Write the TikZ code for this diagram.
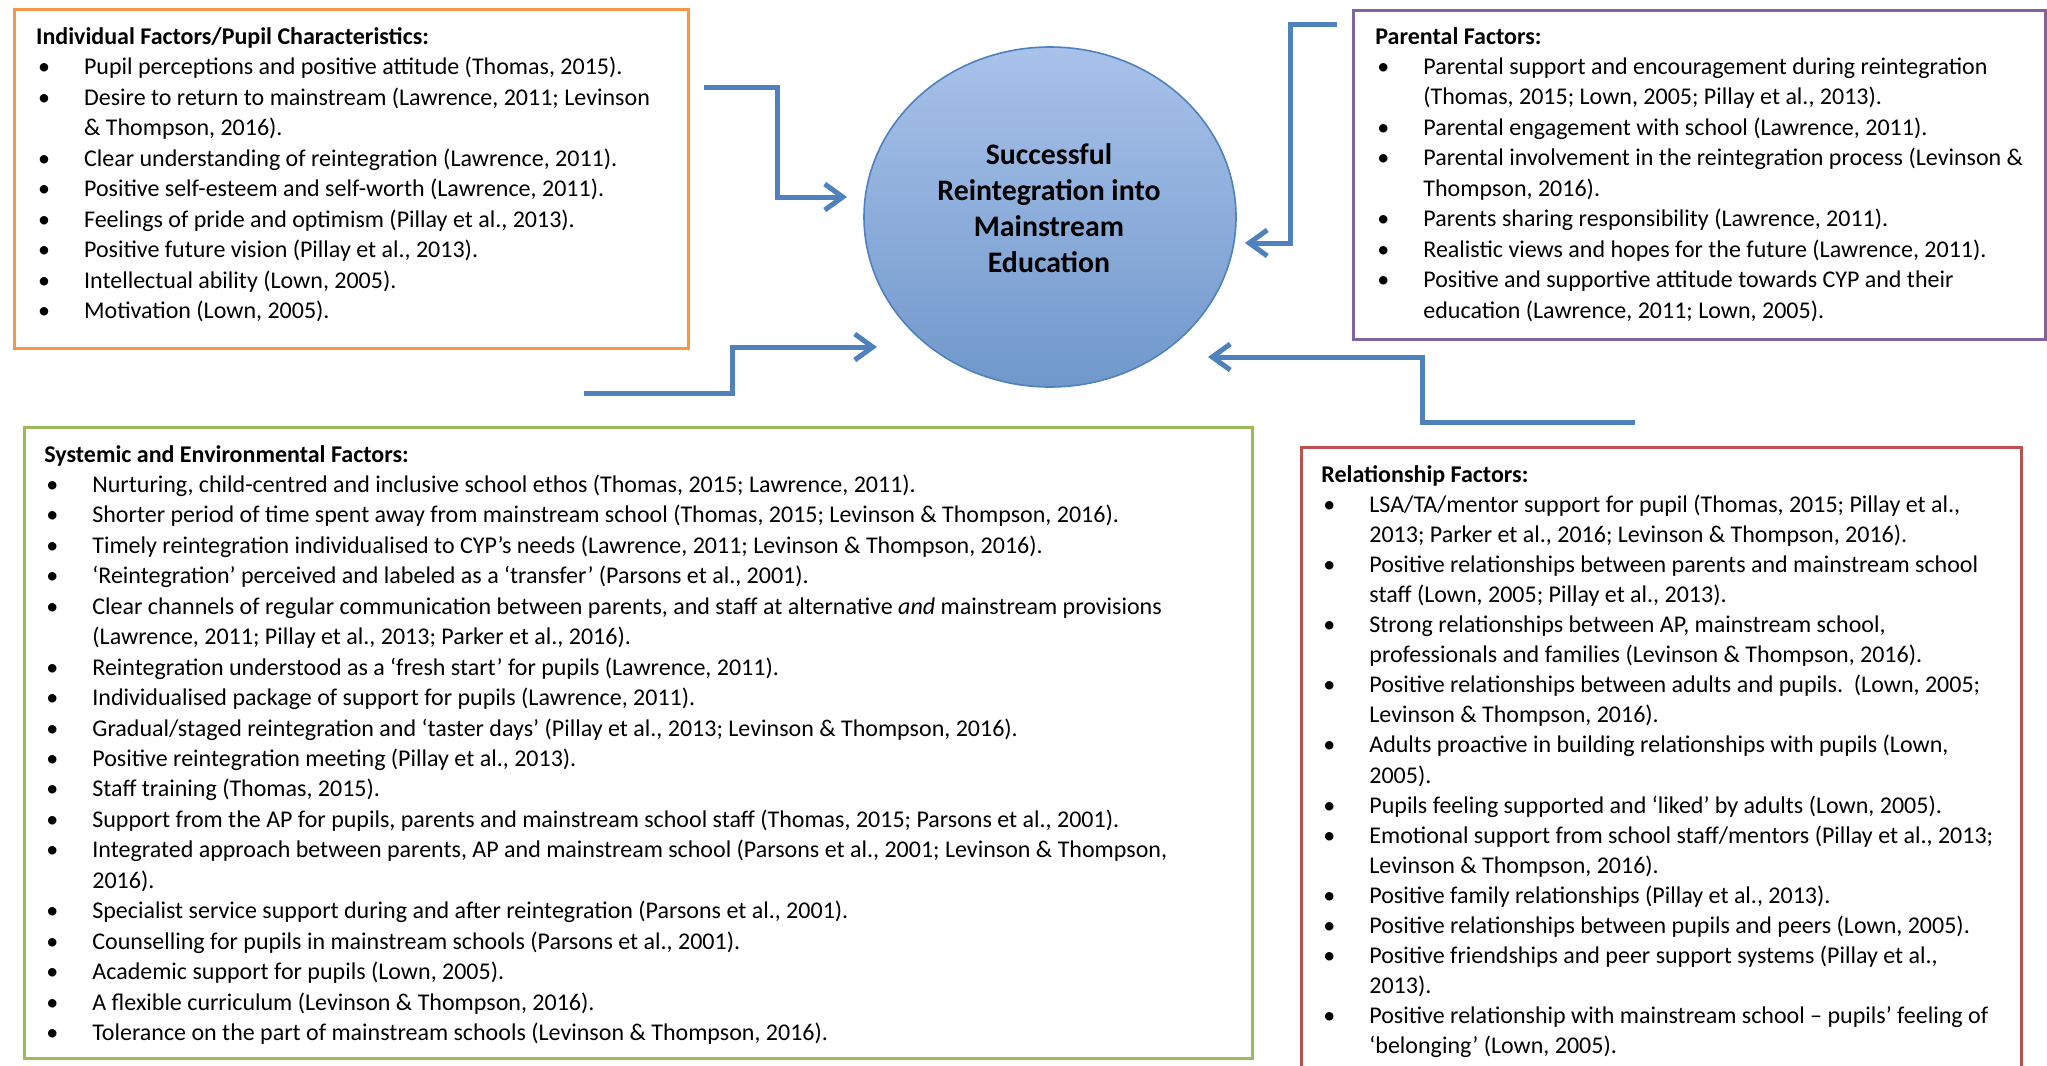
\documentclass[tikz,border=0pt]{standalone}
\usepackage{fontspec}
\setmainfont{Carlito}
\usetikzlibrary{arrows.meta,shapes.geometric}
\definecolor{orangeC}{HTML}{F79646}
\definecolor{purpleC}{HTML}{8064A2}
\definecolor{greenC}{HTML}{9BBB59}
\definecolor{redC}{HTML}{C0504D}
\definecolor{arrowC}{HTML}{4F81BD}
\definecolor{ellTop}{RGB}{168,194,234}
\definecolor{ellBot}{RGB}{112,152,203}
\definecolor{ellLine}{HTML}{4F81BD}
\newlength{\bind}
\setlength{\bind}{24pt}
\newcommand{\bitem}[1]{\makebox[\bind][l]{\hspace{1pt}\textbullet}#1}
\newcommand{\citem}[1]{\hspace*{\bind}#1}
\tikzset{
  factorbox/.style={draw=#1, line width=1.5pt, anchor=north west, inner sep=0pt, fill=none},
  listtext/.style={anchor=base west, inner sep=0pt, font=\fontsize{12}{15.225}\selectfont},
  flow/.style={draw=arrowC, line width=2.5pt, -{Straight Barb[length=9pt,width=13pt]}},
}
\begin{document}
\begin{tikzpicture}[x=0.5pt,y=-0.5pt]
\clip (0,0) rectangle (2047,1066);
\useasboundingbox (0,0) rectangle (2047,1066);
\fill[white] (0,0) rectangle (2047,1066);

% boxes
\node[factorbox=orangeC, minimum width=337.25pt, minimum height=169.5pt] (indbox) at (12.5,8) {};
\node[factorbox=purpleC, minimum width=346pt, minimum height=164.5pt] (parbox) at (1352,9) {};
\node[factorbox=greenC, minimum width=614.25pt, minimum height=315.5pt] (sysbox) at (22.5,426) {};
\node[factorbox=redC, minimum width=360pt, minimum height=320pt] (relbox) at (1300,446) {};

% central ellipse
\node[ellipse, minimum width=186pt, minimum height=170pt, top color=ellTop, bottom color=ellBot, draw=ellLine, line width=0.8pt] (goal) at (1050,217) {};
\node[anchor=base, inner sep=0pt, font=\fontsize{14.9}{18}\selectfont\bfseries] (goaltext) at (1049,164)
  {\parbox[t]{200pt}{\centering Successful\\Reintegration into\\Mainstream\\Education}};

% Individual factors
\node[listtext] (indtext) at (35.7,44.5) {\parbox[t]{700pt}{%
{\bfseries Individual Factors/Pupil Characteristics:}\\
\bitem{Pupil perceptions and positive attitude (Thomas, 2015).}\\
\bitem{Desire to return to mainstream (Lawrence, 2011; Levinson}\\
\citem{\& Thompson, 2016).}\\
\bitem{Clear understanding of reintegration (Lawrence, 2011).}\\
\bitem{Positive self-esteem and self-worth (Lawrence, 2011).}\\
\bitem{Feelings of pride and optimism (Pillay et al., 2013).}\\
\bitem{Positive future vision (Pillay et al., 2013).}\\
\bitem{Intellectual ability (Lown, 2005).}\\
\bitem{Motivation (Lown, 2005).}}};

% Parental factors
\node[listtext] (partext) at (1375,44) {\parbox[t]{700pt}{%
{\bfseries Parental Factors:}\\
\bitem{Parental support and encouragement during reintegration}\\
\citem{(Thomas, 2015; Lown, 2005; Pillay et al., 2013).}\\
\bitem{Parental engagement with school (Lawrence, 2011).}\\
\bitem{Parental involvement in the reintegration process (Levinson \&}\\
\citem{Thompson, 2016).}\\
\bitem{Parents sharing responsibility (Lawrence, 2011).}\\
\bitem{Realistic views and hopes for the future (Lawrence, 2011).}\\
\bitem{Positive and supportive attitude towards CYP and their}\\
\citem{education (Lawrence, 2011; Lown, 2005).}}};

% Systemic factors
\node[listtext] (systext) at (44,462) {\parbox[t]{700pt}{%
{\bfseries Systemic and Environmental Factors:}\\
\bitem{Nurturing, child-centred and inclusive school ethos (Thomas, 2015; Lawrence, 2011).}\\
\bitem{Shorter period of time spent away from mainstream school (Thomas, 2015; Levinson \& Thompson, 2016).}\\
\bitem{Timely reintegration individualised to CYP’s needs (Lawrence, 2011; Levinson \& Thompson, 2016).}\\
\bitem{‘Reintegration’ perceived and labeled as a ‘transfer’ (Parsons et al., 2001).}\\
\bitem{Clear channels of regular communication between parents, and staff at alternative \emph{and} mainstream provisions}\\
\citem{(Lawrence, 2011; Pillay et al., 2013; Parker et al., 2016).}\\
\bitem{Reintegration understood as a ‘fresh start’ for pupils (Lawrence, 2011).}\\
\bitem{Individualised package of support for pupils (Lawrence, 2011).}\\
\bitem{Gradual/staged reintegration and ‘taster days’ (Pillay et al., 2013; Levinson \& Thompson, 2016).}\\
\bitem{Positive reintegration meeting (Pillay et al., 2013).}\\
\bitem{Staff training (Thomas, 2015).}\\
\bitem{Support from the AP for pupils, parents and mainstream school staff (Thomas, 2015; Parsons et al., 2001).}\\
\bitem{Integrated approach between parents, AP and mainstream school (Parsons et al., 2001; Levinson \& Thompson,}\\
\citem{2016).}\\
\bitem{Specialist service support during and after reintegration (Parsons et al., 2001).}\\
\bitem{Counselling for pupils in mainstream schools (Parsons et al., 2001).}\\
\bitem{Academic support for pupils (Lown, 2005).}\\
\bitem{A flexible curriculum (Levinson \& Thompson, 2016).}\\
\bitem{Tolerance on the part of mainstream schools (Levinson \& Thompson, 2016).}}};

% Relationship factors
\node[listtext, font=\fontsize{12}{15.05}\selectfont] (reltext) at (1321,482) {\parbox[t]{700pt}{%
{\bfseries Relationship Factors:}\\
\bitem{LSA/TA/mentor support for pupil (Thomas, 2015; Pillay et al.,}\\
\citem{2013; Parker et al., 2016; Levinson \& Thompson, 2016).}\\
\bitem{Positive relationships between parents and mainstream school}\\
\citem{staff (Lown, 2005; Pillay et al., 2013).}\\
\bitem{Strong relationships between AP, mainstream school,}\\
\citem{professionals and families (Levinson \& Thompson, 2016).}\\
\bitem{Positive relationships between adults and pupils.\ \ (Lown, 2005;}\\
\citem{Levinson \& Thompson, 2016).}\\
\bitem{Adults proactive in building relationships with pupils (Lown,}\\
\citem{2005).}\\
\bitem{Pupils feeling supported and ‘liked’ by adults (Lown, 2005).}\\
\bitem{Emotional support from school staff/mentors (Pillay et al., 2013;}\\
\citem{Levinson \& Thompson, 2016).}\\
\bitem{Positive family relationships (Pillay et al., 2013).}\\
\bitem{Positive relationships between pupils and peers (Lown, 2005).}\\
\bitem{Positive friendships and peer support systems (Pillay et al.,}\\
\citem{2013).}\\
\bitem{Positive relationship with mainstream school – pupils’ feeling of}\\
\citem{‘belonging’ (Lown, 2005).}}};

% connector points
\coordinate (a1s) at (704,87);
\coordinate (a1b) at (777,87);
\coordinate (a1c) at (777,197);
\coordinate (a1t) at (847,197);
\coordinate (a2s) at (1337,24);
\coordinate (a2b) at (1290,24);
\coordinate (a2c) at (1290,243);
\coordinate (a2t) at (1245,243);
\coordinate (a3s) at (584,393);
\coordinate (a3b) at (732,393);
\coordinate (a3c) at (732,347);
\coordinate (a3t) at (877,347);
\coordinate (a4s) at (1635,422);
\coordinate (a4b) at (1422,422);
\coordinate (a4c) at (1422,357);
\coordinate (a4t) at (1208,357);

\draw[flow] (a1s) -- (a1b) -- (a1c) -- (a1t);
\draw[flow] (a2s) -- (a2b) -- (a2c) -- (a2t);
\draw[flow] (a3s) -- (a3b) -- (a3c) -- (a3t);
\draw[flow] (a4s) -- (a4b) -- (a4c) -- (a4t);
\end{tikzpicture}
\end{document}
